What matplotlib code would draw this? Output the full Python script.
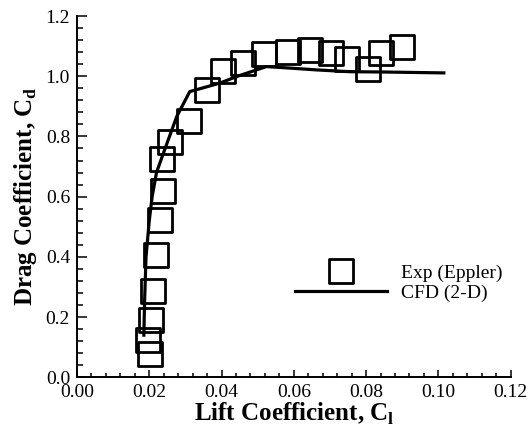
import matplotlib
matplotlib.use("Agg")
import matplotlib.pyplot as plt
from matplotlib.markers import MarkerStyle
from matplotlib.ticker import FixedLocator, MultipleLocator

plt.rcParams['font.family'] = ['Liberation Serif', 'DejaVu Serif']
plt.rcParams['mathtext.fontset'] = 'custom'
plt.rcParams['mathtext.rm'] = 'Liberation Serif'
plt.rcParams['mathtext.bf'] = 'Liberation Serif:bold'

# Experimental data (Eppler)
exp_cl = [0.0201, 0.0197, 0.0204, 0.0210, 0.0218, 0.0229, 0.0238, 0.0235,
          0.0257, 0.0310, 0.0359, 0.0403, 0.0459, 0.0517, 0.0583, 0.0646,
          0.0704, 0.0748, 0.0805, 0.0841, 0.0899]
exp_cd = [0.078, 0.124, 0.190, 0.285, 0.406, 0.524, 0.620, 0.725,
          0.780, 0.851, 0.954, 1.016, 1.044, 1.074, 1.081, 1.087,
          1.076, 1.057, 1.023, 1.078, 1.097]

# CFD (2-D)
cfd_cl = [0.0185, 0.0187, 0.0191, 0.0200, 0.0208, 0.0220, 0.0239, 0.0276,
          0.0312, 0.0395, 0.0442, 0.0524, 0.0589, 0.0663, 0.0755, 0.0847,
          0.1015]
cfd_cd = [0.14, 0.25, 0.40, 0.52, 0.60, 0.68, 0.744, 0.866,
          0.949, 0.977, 0.999, 1.032, 1.027, 1.021, 1.015, 1.014,
          1.011]

xticks = [0.00, 0.02, 0.04, 0.06, 0.08, 0.10, 0.12]
xticklabels = ['0.00', '0.02', '0.04', '0.06', '0.08', '0.10', '0.12']
yticks = [0.0, 0.2, 0.4, 0.6, 0.8, 1.0, 1.2]
yticklabels = ['0.0', '0.2', '0.4', '0.6', '0.8', '1.0', '1.2']

fig = plt.figure(figsize=(5.28, 4.28), dpi=100)
ax = fig.add_axes([0.1458, 0.1185, 0.8214, 0.8441])

sq = MarkerStyle('s', fillstyle='none', joinstyle='round')
ax.plot(exp_cl, exp_cd, linestyle='none', marker=sq, markersize=17,
        markeredgewidth=2.0, markeredgecolor='black', color='black',
        label='Exp (Eppler)')
ax.plot(cfd_cl, cfd_cd, color='black', linewidth=2.3, label='CFD (2-D)',
        solid_joinstyle='round')

ax.set_xlim(0, 0.12)
ax.set_ylim(0, 1.2)
ax.xaxis.set_major_locator(FixedLocator(xticks))
ax.set_xticklabels(xticklabels)
ax.yaxis.set_major_locator(FixedLocator(yticks))
ax.set_yticklabels(yticklabels)
ax.xaxis.set_minor_locator(MultipleLocator(0.004))
ax.yaxis.set_minor_locator(MultipleLocator(0.04))

for s in ['top', 'right']:
    ax.spines[s].set_visible(False)
for s in ['left', 'bottom']:
    ax.spines[s].set_linewidth(1.4)

ax.tick_params(axis='both', which='both', direction='in', labelsize=14,
               width=1.1, colors='black')
ax.tick_params(axis='y', which='major', length=7, pad=5)
ax.tick_params(axis='y', which='minor', length=4)
ax.tick_params(axis='x', which='major', length=5, pad=5)
ax.tick_params(axis='x', which='minor', length=3)

ax.set_xlabel('Lift Coefficient, C$_\\mathbf{l}$', fontsize=18,
              fontweight='bold', labelpad=0)
ax.set_ylabel('Drag Coefficient, C$_\\mathbf{d}$', fontsize=18,
              fontweight='bold', labelpad=5)

ax.legend(loc='center left', bbox_to_anchor=(0.503, 0.261), frameon=False,
          fontsize=14, handlelength=4.7, handletextpad=0.75,
          labelspacing=0.1, borderpad=0, borderaxespad=0)

fig.savefig('out.png', dpi=100, facecolor='white')
